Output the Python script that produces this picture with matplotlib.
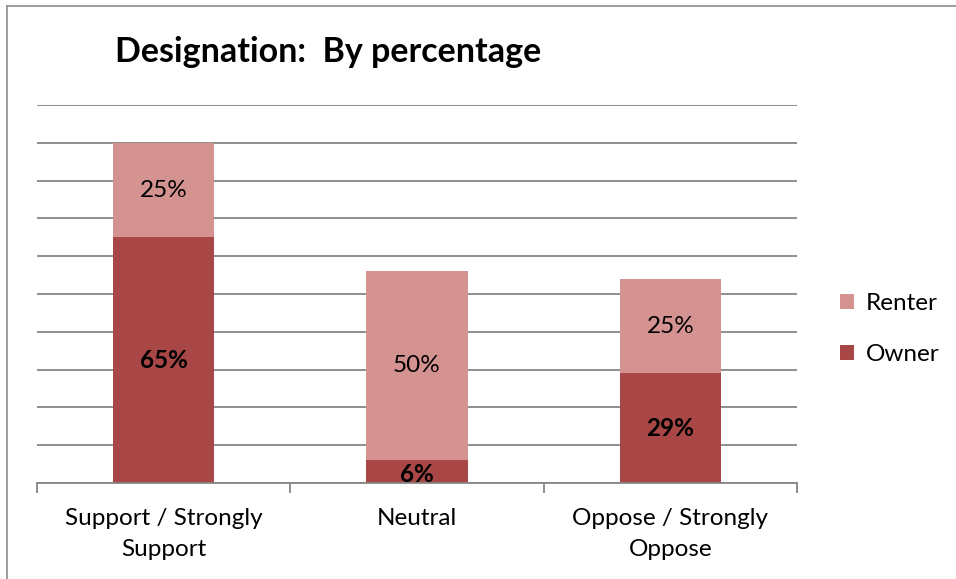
import matplotlib
matplotlib.use("Agg")
import matplotlib.pyplot as plt
from matplotlib.patches import Patch
from matplotlib.lines import Line2D

categories = ["Support / Strongly\nSupport", "Neutral", "Oppose / Strongly\nOppose"]
owner = [65, 6, 29]
renter = [25, 50, 25]
owner_labels = ["65%", "6%", "29%"]
renter_labels = ["25%", "50%", "25%"]

OWNER_C = "#A84745"
RENTER_C = "#D49391"
GRID_C = "#868686"

plt.rcParams['font.family'] = ['Lato', 'DejaVu Sans']
FS = 17.5

fig = plt.figure(figsize=(9.56, 5.79), dpi=100)
ax = fig.add_axes([37/956, 1-483/579, (797-37)/956, (483-105)/579])

x = list(range(len(categories)))
w = 0.40
ax.bar(x, owner, width=w, color=OWNER_C, zorder=3)
ax.bar(x, renter, width=w, bottom=owner, color=RENTER_C, zorder=3)

for i in x:
    oy = owner[i] / 2 if owner[i] > 10 else owner[i] / 2 - 0.8
    ax.text(i, oy, owner_labels[i], ha="center", va="center", fontsize=FS,
            fontweight="bold", color="black", zorder=4)
    ax.text(i, owner[i] + renter[i] / 2, renter_labels[i], ha="center", va="center",
            fontsize=FS, color="black", zorder=4)

ax.set_xlim(-0.5, 2.5)
ax.set_ylim(0, 100)
ax.set_yticks(range(0, 101, 10))
ax.yaxis.grid(True, color=GRID_C, linewidth=1.3, zorder=0)
ax.tick_params(axis="y", left=False, labelleft=False)
ax.set_xticks([-0.5, 0.5, 1.5, 2.5])
ax.set_xticklabels([])
ax.tick_params(axis="x", direction="out", length=7, width=1.3, color=GRID_C)
ax.set_xticks(x, minor=True)
ax.set_xticklabels(categories, minor=True, fontsize=FS, linespacing=1.6)
ax.tick_params(axis="x", which="minor", length=0, pad=18)
for s in ["top", "right", "left"]:
    ax.spines[s].set_visible(False)
ax.spines["bottom"].set_color(GRID_C)
ax.spines["bottom"].set_linewidth(1.3)
ax.spines["bottom"].set_zorder(5)

fig.text(115/956, 1-52/579, "Designation:  By percentage", fontsize=24.5,
         fontweight="bold", ha="left", va="center")

handles = [Patch(facecolor=RENTER_C), Patch(facecolor=OWNER_C)]
fig.legend(handles, ["Renter", "Owner"], loc="center left",
           bbox_to_anchor=(818/956, 1-329/579), frameon=False, fontsize=FS,
           handlelength=0.6, handleheight=0.6, handletextpad=0.45, labelspacing=1.25)

# outer chart border (left and top)
fig.add_artist(Line2D([7/956, 7/956], [0, 1-6/579], transform=fig.transFigure,
                      color="#8c8c8c", linewidth=1.2))
fig.add_artist(Line2D([7/956, 1], [1-6/579, 1-6/579], transform=fig.transFigure,
                      color="#8c8c8c", linewidth=1.2))

fig.savefig("out.png", dpi=100)
